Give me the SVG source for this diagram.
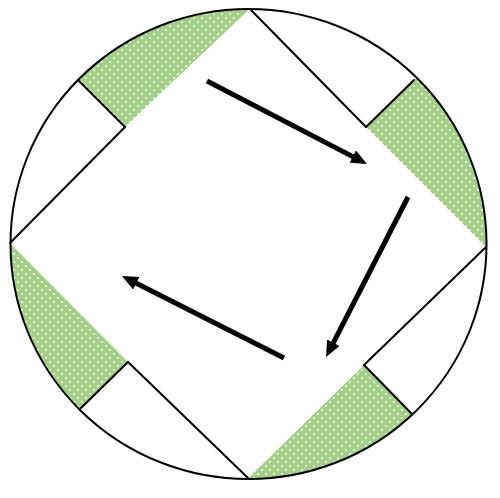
<svg xmlns="http://www.w3.org/2000/svg" width="500" height="498" viewBox="0 0 500 498">
  <defs>
    <pattern id="dots" patternUnits="userSpaceOnUse" width="8" height="8">
      <rect width="8" height="8" fill="#a4cf88"/>
      <circle cx="2" cy="2" r="0.9" fill="#ffffff"/>
      <circle cx="6" cy="6" r="0.9" fill="#ffffff"/>
    </pattern>
    <clipPath id="disc">
      <ellipse cx="248.5" cy="244" rx="238" ry="235"/>
    </clipPath>
    <marker id="head" markerUnits="userSpaceOnUse" markerWidth="18" markerHeight="16" refX="6" refY="7" orient="auto">
      <path d="M0,0 L16,7 L0,14 Z" fill="#000"/>
    </marker>
    <style>
      .green { fill: url(#dots); stroke: none; }
      .edge { stroke: #000; stroke-width: 2; fill: none; stroke-linecap: round; }
      .arrow { stroke: #000; stroke-width: 5; fill: none; marker-end: url(#head); }
    </style>
  </defs>
  <rect width="500" height="498" fill="#ffffff"/>

  <g id="segments-green" clip-path="url(#disc)">
    <polygon id="green-top-left" class="green" points="125,127 45,47 100,-40 275,-15"/>
    <polygon id="green-top-right" class="green" points="366,127 456,39 540,120 506,267"/>
    <polygon id="green-bottom-right" class="green" points="364,365 454,457 380,540 228,498"/>
    <polygon id="green-bottom-left" class="green" points="128,362 38,450 -40,340 -10,223"/>
  </g>

  <g id="circle">
    <ellipse class="edge" cx="248.5" cy="244" rx="238" ry="235"/>
  </g>

  <g id="square-edges">
    <line class="edge" x1="10" y1="243" x2="125" y2="127"/>
    <line class="edge" x1="250" y1="9" x2="366" y2="127"/>
    <line class="edge" x1="486" y1="247" x2="364" y2="365"/>
    <line class="edge" x1="248" y1="478" x2="128" y2="362"/>
  </g>

  <g id="dividers">
    <line class="edge" x1="125" y1="127" x2="78" y2="80"/>
    <line class="edge" x1="366" y1="127" x2="414" y2="80"/>
    <line class="edge" x1="364" y1="365" x2="411" y2="413"/>
    <line class="edge" x1="128" y1="362" x2="81" y2="408"/>
  </g>

  <g id="connectors">
    <line class="arrow" x1="207" y1="81" x2="358.1" y2="159.4"/>
    <line class="arrow" x1="408" y1="197" x2="330.6" y2="348.1"/>
    <line class="arrow" x1="284" y1="358" x2="130.9" y2="280.5"/>
  </g>
</svg>
